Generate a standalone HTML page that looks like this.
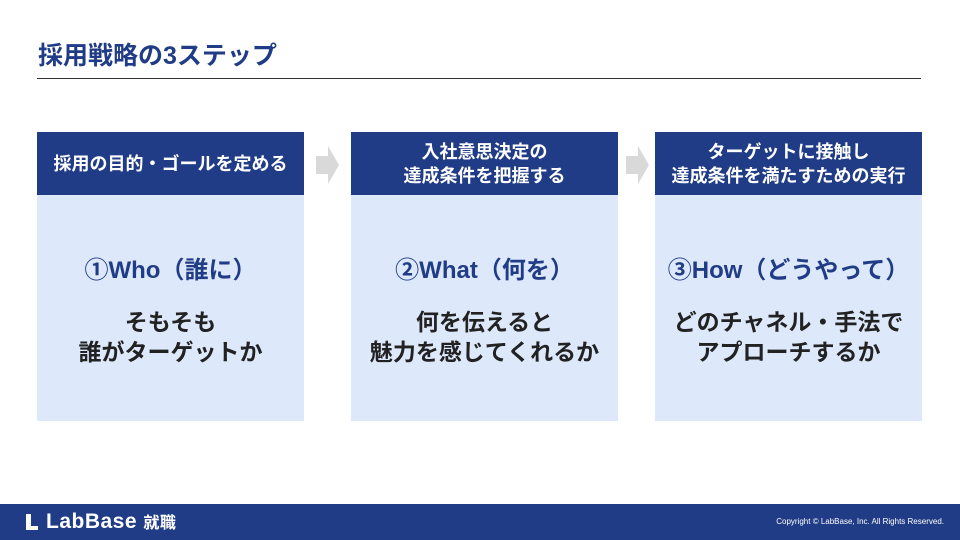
<!DOCTYPE html>
<html><head><meta charset="utf-8"><style>
body{margin:0;width:960px;height:540px;position:relative;background:#fff;font-family:"Liberation Sans","Noto Sans CJK JP",sans-serif;overflow:hidden}
.t{position:absolute;left:38px;top:36px;font-size:25px;font-weight:bold;color:#213c86}
.ln{position:absolute;left:37px;top:78px;width:884px;height:1px;background:#333}
.h{position:absolute;top:132px;width:267px;height:63px;background:#213c86;color:#fff;font-size:18px;font-weight:bold;display:flex;align-items:center;justify-content:center;text-align:center;line-height:24px}
.b{position:absolute;top:195px;width:267px;height:226px;background:#dde9fb;text-align:center}
.s{position:absolute;top:55px;left:0;right:0;font-size:24px;font-weight:bold;color:#213c86}
.d{position:absolute;top:112px;left:0;right:0;font-size:23px;font-weight:bold;color:#222;line-height:30px}
.ar{position:absolute;top:146px}
.f{position:absolute;left:0;top:504px;width:960px;height:36px;background:#213c86;color:#fff}
</style></head><body>
<div class="t">採用戦略の3ステップ</div>
<div class="ln"></div>
<div class="h" style="left:37px">採用の目的・ゴールを定める</div>
<div class="h" style="left:351px">入社意思決定の<br>達成条件を把握する</div>
<div class="h" style="left:655px">ターゲットに接触し<br>達成条件を満たすための実行</div>
<div class="b" style="left:37px"><div class="s">①Who（誰に）</div><div class="d">そもそも<br>誰がターゲットか</div></div>
<div class="b" style="left:351px"><div class="s">②What（何を）</div><div class="d">何を伝えると<br>魅力を感じてくれるか</div></div>
<div class="b" style="left:655px"><div class="s">③How（どうやって）</div><div class="d">どのチャネル・手法で<br>アプローチするか</div></div>
<svg class="ar" style="left:316px" width="24" height="38"><polygon points="0,10 12,10 12,0 23,19 12,38 12,28 0,28" fill="#d9d9d9"/></svg>
<svg class="ar" style="left:626px" width="24" height="38"><polygon points="0,10 12,10 12,0 23,19 12,38 12,28 0,28" fill="#d9d9d9"/></svg>
<div class="f">
<div style="position:absolute;left:26px;top:10px;width:5px;height:16px;background:#fff"></div>
<div style="position:absolute;left:26px;top:22px;width:12px;height:4px;background:#fff"></div>
<div style="position:absolute;left:46px;top:5px;font-size:21px;font-weight:bold;letter-spacing:0.5px">LabBase <span style="font-size:16px">就職</span></div>
<div style="position:absolute;right:16px;top:13px;font-size:8px">Copyright © LabBase, Inc. All Rights Reserved.</div>
</div>
</body></html>
